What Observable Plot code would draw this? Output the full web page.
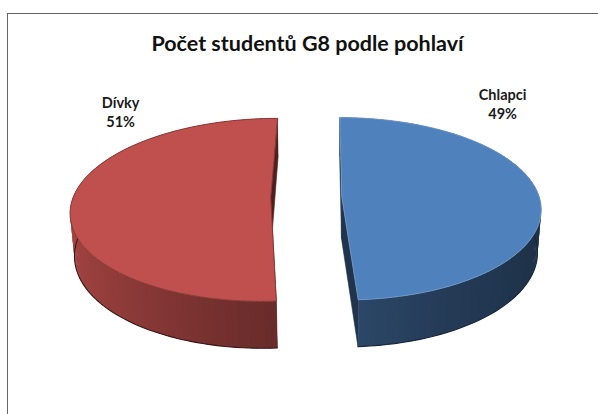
<!DOCTYPE html>
<html><head><meta charset="utf-8">
<script src="https://cdn.jsdelivr.net/npm/d3@7"></script>
<script src="https://cdn.jsdelivr.net/npm/@observablehq/plot@0.6"></script>
<style>
html,body{margin:0;padding:0;background:#fff;}
#wrap{position:relative;width:598px;height:414px;overflow:hidden;background:#fff;}
#border{position:absolute;left:7px;top:13px;width:700px;height:600px;border:1.6px solid #666;box-sizing:border-box;}
#chart{position:absolute;left:0;top:0;}
</style></head><body>
<div id="wrap"><div id="border"></div><div id="chart"></div></div>
<script>
// ---- data ----
const title = "Počet studentů G8 podle pohlaví";
const categories = ["Chlapci", "Dívky"];
const shares = [49, 51];

// ---- style / layout config ----
const W = 598, H = 414;
const palette = ["#4F81BD", "#C0504D"];
const view = {tilt: 27, D: 6.51, f: 1285, cx: 325.5, cy: 196.3, camX: 0.1, thick: 0.245, explode: 0.18, step: 1.5};
const labelPlacement = [{angle: 59, r: 1.011, lift: 0.2}, {angle: 297.9, r: 0.912, lift: 0.2}];

const rad = Math.PI / 180;
const ct = Math.cos(view.tilt * rad), st = Math.sin(view.tilt * rad);
function project(X, Z, Y) {
  const yc = Y * ct + Z * st;
  const d = view.D + Z * ct - Y * st;
  return {u: (X - view.camX) / d, v: yc / d, d};
}
function shade(hex, k) {
  const c = d3.rgb(hex);
  return d3.rgb(Math.min(255, c.r * k), Math.min(255, c.g * k), Math.min(255, c.b * k)).formatHex();
}

const total = d3.sum(shares);
let acc = 0;
const slices = categories.map((name, i) => {
  const a0 = acc / total * 360; acc += shares[i]; const a1 = acc / total * 360;
  return {name, share: shares[i], a0, a1, color: palette[i], i};
});

const faces = [], tops = [], rims = [], labels = [];
const h = view.thick;
slices.forEach(sl => {
  const am = (sl.a0 + sl.a1) / 2 * rad;
  const ox = view.explode * Math.sin(am), oz = view.explode * Math.cos(am);
  const pt = (a, r, Y) => project(ox + r * Math.sin(a * rad), oz + r * Math.cos(a * rad), Y);
  const n = Math.ceil((sl.a1 - sl.a0) / view.step);
  const angs = d3.range(n + 1).map(k => sl.a0 + (sl.a1 - sl.a0) * k / n);
  for (let k = 0; k < n; k++) {
    const a = angs[k], b = Math.min(sl.a1, angs[k + 1] + (angs[k + 1] - a) * 0.6), m = (a + angs[k + 1]) / 2;
    const sx = Math.sin(m * rad);
    const kf = 0.56 - 0.24 * sx + 0.06 * sx * sx;
    faces.push({poly: [pt(a, 1, 0), pt(b, 1, 0), pt(b, 1, -h), pt(a, 1, -h)], color: shade(sl.color, kf), sw: 0});
  }
  for (const a of [sl.a0, sl.a1]) {
    faces.push({poly: [pt(a, 0, 0), pt(a, 1, 0), pt(a, 1, -h), pt(a, 0, -h)], color: shade(sl.color, 0.4), sw: 0.6});
  }
  tops.push({poly: [pt(0, 0, 0), ...angs.map(a => pt(a, 1, 0))], color: sl.color,
    edge: sl.i === 0 ? "#6f97c9" : shade(sl.color, 0.72)});
  const near = angs.filter(a => Math.cos(a * rad) < 0.15);
  rims.push({pts: near.map(a => pt(a, 1, -h)), color: shade(sl.color, 0.3)});
  const lp = labelPlacement[sl.i];
  const p = pt(lp.angle, lp.r, lp.lift);
  labels.push({u: p.u, v: p.v, text: `${sl.name}\n${sl.share}%`});
});

faces.forEach(fc => fc.depth = d3.mean(fc.poly, p => p.d));
faces.sort((a, b) => b.depth - a.depth);

const sideRows = faces.flatMap((fc, id) => fc.poly.map(p => ({id, u: p.u, v: p.v, color: fc.color, sw: fc.sw})));
const topRows = tops.flatMap((t, id) => t.poly.map(p => ({id, u: p.u, v: p.v, color: t.color, edge: t.edge})));
const rimRows = rims.flatMap((r, id) => r.pts.map(p => ({id, u: p.u, v: p.v, color: r.color})));

const font = "Lato, 'Open Sans', sans-serif";
const chart = Plot.plot({
  width: W, height: H, margin: 0,
  x: {domain: [(0 - view.cx) / view.f, (W - view.cx) / view.f], axis: null},
  y: {domain: [(view.cy - H) / view.f, view.cy / view.f], axis: null},
  color: {type: "identity"},
  style: {background: "transparent", fontFamily: font},
  marks: [
    Plot.line(sideRows, {x: "u", y: "v", z: "id", fill: "color", stroke: "color", strokeWidth: "sw", curve: "linear-closed"}),
    Plot.line(rimRows, {x: "u", y: "v", z: "id", stroke: "color", strokeWidth: 1.1}),
    Plot.line(topRows, {x: "u", y: "v", z: "id", fill: "color", stroke: "edge", strokeWidth: 1, curve: "linear-closed"}),
    Plot.text(labels, {x: "u", y: "v", text: "text", lineAnchor: "bottom", lineHeight: 1.3,
      fontSize: 14.5, fontWeight: "bold", fontFamily: font, fill: "#1a1a1a"}),
    Plot.text([title], {frameAnchor: "top", dx: 8, dy: 50, lineAnchor: "bottom",
      fontSize: 21.5, fontWeight: "bold", fontFamily: font, fill: "#111"})
  ]
});
document.getElementById("chart").appendChild(chart);
</script>
</body></html>
